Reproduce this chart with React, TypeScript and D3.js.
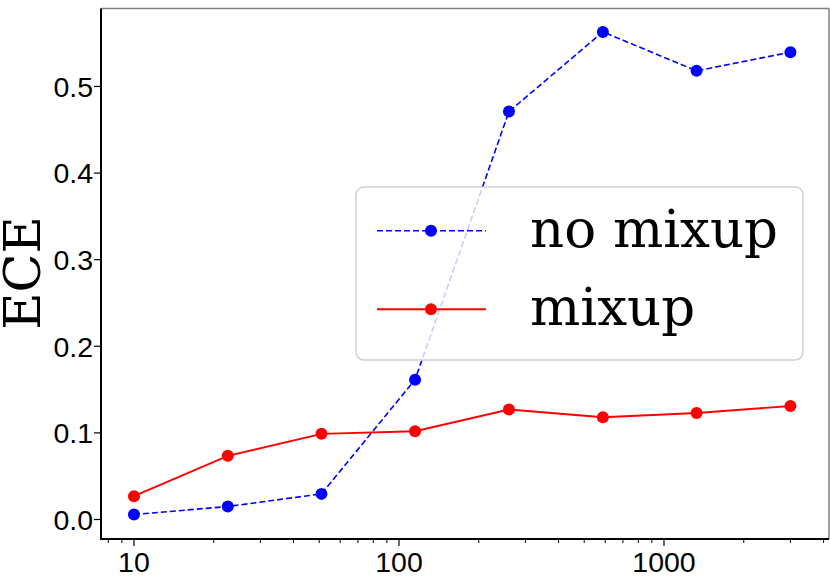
import React from "react";
import * as d3 from "d3";

const xValues = [10, 22.6, 51, 115, 260, 588, 1327, 3000];
const noMixup = [0.0058, 0.015, 0.0296, 0.1615, 0.471, 0.563, 0.518, 0.5396];
const mixup = [0.0269, 0.0735, 0.0989, 0.1019, 0.127, 0.118, 0.123, 0.131];
const yTicks = [0.0, 0.1, 0.2, 0.3, 0.4, 0.5];
const xTicks = [10, 100, 1000];
const seriesNames = ["no mixup", "mixup"];

const W = 830, H = 582;
const left = 101, right = 829, top = 8.5, bottom = 539;

export default function App() {
  const x = d3.scaleLog().domain([7.51, 4194]).range([left, right]);
  const y = d3.scaleLinear().domain([-0.0225, 0.59]).range([bottom, top]);
  const line = d3.line<number>().x((_, i) => x(xValues[i])).y((d) => y(d));
  const minor: number[] = [];
  for (let dec = 1; dec <= 1000; dec *= 10) {
    for (let k = 2; k <= 9; k++) {
      const v = k * dec;
      if (v > 7.51 && v < 4194) minor.push(v);
    }
  }
  const sans = "'Liberation Sans', Arial, sans-serif";
  const serif = "'DejaVu Serif', serif";
  return (
    <svg width={W} height={H} style={{ position: "absolute", left: 0, top: 0 }}>
      <rect width={W} height={H} fill="#fff" />
      {/* spines */}
      <line x1={left} x2={right} y1={top} y2={top} stroke="#808080" strokeWidth={1.5} />
      <line x1={right} x2={right} y1={top} y2={bottom} stroke="#808080" strokeWidth={1.5} />
      <line x1={left} x2={left} y1={top} y2={bottom + 1} stroke="#000" strokeWidth={2} />
      <line x1={left - 1} x2={right} y1={bottom} y2={bottom} stroke="#000" strokeWidth={2} />
      {/* y ticks */}
      {yTicks.map((t) => (
        <g key={t}>
          <line x1={left - 7} x2={left} y1={y(t)} y2={y(t)} stroke="#000" strokeWidth={1.2} />
          <text x={left - 8} y={y(t)} dy="0.36em" textAnchor="end" fontFamily={sans} fontSize={28.5}>
            {t.toFixed(1)}
          </text>
        </g>
      ))}
      {/* x ticks */}
      {minor.map((t) => (
        <line key={"m" + t} x1={x(t)} x2={x(t)} y1={bottom} y2={bottom + 4} stroke="#000" strokeWidth={1} />
      ))}
      {xTicks.map((t) => (
        <g key={t}>
          <line x1={x(t)} x2={x(t)} y1={bottom} y2={bottom + 7} stroke="#000" strokeWidth={1.2} />
          <text x={x(t)} y={bottom + 33} textAnchor="middle" fontFamily={sans} fontSize={28.5}>
            {t}
          </text>
        </g>
      ))}
      {/* y label */}
      <text
        transform={`translate(40,273) rotate(-90)`}
        textAnchor="middle"
        fontFamily={serif}
        fontSize={51}
      >
        ECE
      </text>
      {/* series */}
      <path d={line(noMixup) || ""} fill="none" stroke="#0000ff" strokeWidth={1.6} strokeDasharray="6,3" />
      {noMixup.map((d, i) => (
        <circle key={"b" + i} cx={x(xValues[i])} cy={y(d)} r={6} fill="#0000ff" />
      ))}
      <path d={line(mixup) || ""} fill="none" stroke="#ff0000" strokeWidth={1.9} />
      {mixup.map((d, i) => (
        <circle key={"r" + i} cx={x(xValues[i])} cy={y(d)} r={6} fill="#ff0000" />
      ))}
      {/* legend */}
      <rect x={356} y={187} width={447} height={173} rx={8} fill="#fff" fillOpacity={0.8} stroke="#d0d0d0" strokeWidth={1.5} />
      <line x1={377} x2={486} y1={230.7} y2={230.7} stroke="#0000ff" strokeWidth={1.6} strokeDasharray="6,3" />
      <circle cx={431} cy={230.7} r={6} fill="#0000ff" />
      <text x={530} y={230.7} dy="0.3em" fontFamily={serif} fontSize={53}>{seriesNames[0]}</text>
      <line x1={377} x2={486} y1={309.3} y2={309.3} stroke="#ff0000" strokeWidth={1.9} />
      <circle cx={431} cy={309.3} r={6} fill="#ff0000" />
      <text x={530} y={309.3} dy="0.3em" fontFamily={serif} fontSize={53}>{seriesNames[1]}</text>
    </svg>
  );
}
